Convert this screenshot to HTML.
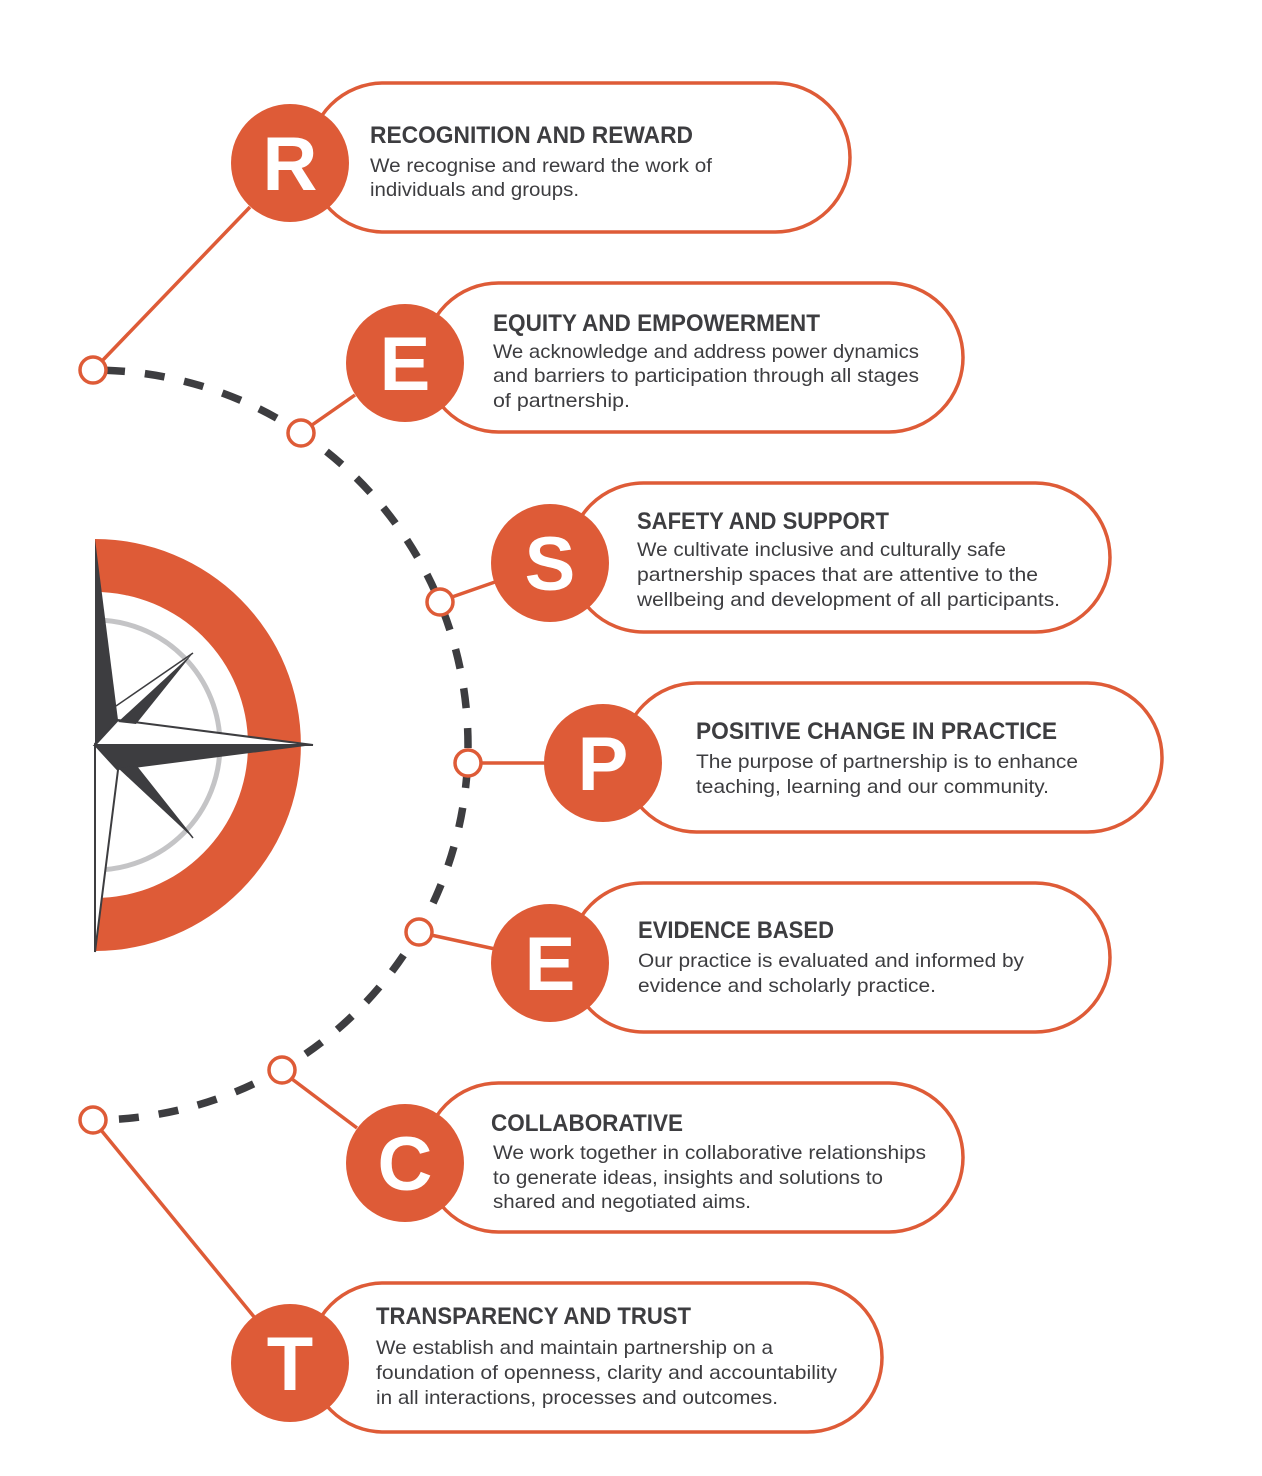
<!DOCTYPE html>
<html><head><meta charset="utf-8"><style>html,body{margin:0;padding:0;background:#fff}svg{display:block}</style></head>
<body>
<svg width="1262" height="1476" viewBox="0 0 1262 1476" xmlns="http://www.w3.org/2000/svg" font-family="Liberation Sans, sans-serif">
<!-- compass -->
<path d="M95 539 A206 206 0 0 1 95 951 L95 898 A153 153 0 0 0 95 592 Z" fill="#DE5B37"/>
<path d="M95 620 A125 125 0 0 1 95 870" fill="none" stroke="#c4c4c6" stroke-width="5"/>
<polygon points="95,539 118,720 95,745" fill="#3d3d40"/>
<polygon points="95,952 118,770 95,745" fill="#fff" stroke="#3d3d40" stroke-width="2"/>
<polygon points="95,745 118,720 313,745" fill="#fff" stroke="#3d3d40" stroke-width="2"/>
<polygon points="95,745 118,770 313,745" fill="#3d3d40"/>
<polygon points="118,722 193,653 136,724" fill="#3d3d40"/>
<line x1="116" y1="706" x2="193" y2="653" stroke="#3d3d40" stroke-width="1.5"/>
<polygon points="118,768 193,838 136,766" fill="#3d3d40"/>
<line x1="136" y1="766" x2="193" y2="838" stroke="#3d3d40" stroke-width="1.5"/>
<!-- dashed arc -->
<path d="M93 370 A375 375 0 0 1 93 1120" fill="none" stroke="#3d3d40" stroke-width="7.5" stroke-dasharray="20 20" stroke-dashoffset="-12"/>
<!-- connectors -->
<g stroke="#DE5B37" stroke-width="3.5" fill="none">
<line x1="250" y1="207" x2="102" y2="361"/>
<line x1="355" y1="395" x2="312" y2="425"/>
<line x1="495" y1="582" x2="452" y2="597"/>
<line x1="481" y1="763" x2="548" y2="763"/>
<line x1="431" y1="935" x2="495" y2="949"/>
<line x1="292" y1="1079" x2="357" y2="1128"/>
<line x1="101" y1="1130" x2="255" y2="1318"/>
</g>
<g stroke="#DE5B37" stroke-width="3.5" fill="#fff">
<circle cx="93" cy="370" r="13"/><circle cx="301" cy="433" r="13"/><circle cx="440" cy="602" r="13"/>
<circle cx="468" cy="763" r="13"/><circle cx="419" cy="932" r="13"/><circle cx="282" cy="1070" r="13"/><circle cx="93" cy="1120" r="13"/>
</g>
<!-- cards -->
<g stroke="#DE5B37" stroke-width="3.5" fill="#fff">
<rect x="309" y="83" width="541" height="149" rx="74.5"/>
<rect x="424" y="283" width="539" height="149" rx="74.5"/>
<rect x="569" y="483" width="541" height="149" rx="74.5"/>
<rect x="622" y="683" width="540" height="149" rx="74.5"/>
<rect x="569" y="883" width="541" height="149" rx="74.5"/>
<rect x="424" y="1083" width="539" height="149" rx="74.5"/>
<rect x="309" y="1283" width="573" height="149" rx="74.5"/>
</g>
<g fill="#DE5B37">
<circle cx="290" cy="163" r="59"/><circle cx="405" cy="363" r="59"/><circle cx="550" cy="563" r="59"/>
<circle cx="603" cy="763" r="59"/><circle cx="550" cy="963" r="59"/><circle cx="405" cy="1163" r="59"/><circle cx="290" cy="1363" r="59"/>
</g>
<g fill="#fff" font-weight="bold" font-size="76" text-anchor="middle">
<text x="290" y="190">R</text><text x="405" y="390">E</text><text x="550" y="590">S</text>
<text x="603" y="790">P</text><text x="550" y="990">E</text><text x="405" y="1190">C</text><text x="290" y="1390">T</text>
</g>
<g fill="#3d3d40">
<g font-weight="bold" font-size="24">
<text x="370" y="143" textLength="323" lengthAdjust="spacingAndGlyphs">RECOGNITION AND REWARD</text>
<text x="493" y="331" textLength="327" lengthAdjust="spacingAndGlyphs">EQUITY AND EMPOWERMENT</text>
<text x="637" y="529" textLength="252" lengthAdjust="spacingAndGlyphs">SAFETY AND SUPPORT</text>
<text x="696" y="739" textLength="361" lengthAdjust="spacingAndGlyphs">POSITIVE CHANGE IN PRACTICE</text>
<text x="638" y="938" textLength="196" lengthAdjust="spacingAndGlyphs">EVIDENCE BASED</text>
<text x="491" y="1131" textLength="192" lengthAdjust="spacingAndGlyphs">COLLABORATIVE</text>
<text x="376" y="1324" textLength="315" lengthAdjust="spacingAndGlyphs">TRANSPARENCY AND TRUST</text>
</g>
<g font-size="19.5">
<text x="370" y="172" textLength="342" lengthAdjust="spacingAndGlyphs">We recognise and reward the work of</text>
<text x="370" y="196" textLength="209" lengthAdjust="spacingAndGlyphs">individuals and groups.</text>
<text x="493" y="358" textLength="426" lengthAdjust="spacingAndGlyphs">We acknowledge and address power dynamics</text>
<text x="493" y="382" textLength="426" lengthAdjust="spacingAndGlyphs">and barriers to participation through all stages</text>
<text x="493" y="407" textLength="137" lengthAdjust="spacingAndGlyphs">of partnership.</text>
<text x="637" y="556" textLength="369" lengthAdjust="spacingAndGlyphs">We cultivate inclusive and culturally safe</text>
<text x="637" y="581" textLength="401" lengthAdjust="spacingAndGlyphs">partnership spaces that are attentive to the</text>
<text x="637" y="606" textLength="423" lengthAdjust="spacingAndGlyphs">wellbeing and development of all participants.</text>
<text x="696" y="768" textLength="382" lengthAdjust="spacingAndGlyphs">The purpose of partnership is to enhance</text>
<text x="696" y="793" textLength="353" lengthAdjust="spacingAndGlyphs">teaching, learning and our community.</text>
<text x="638" y="967" textLength="386" lengthAdjust="spacingAndGlyphs">Our practice is evaluated and informed by</text>
<text x="638" y="992" textLength="298" lengthAdjust="spacingAndGlyphs">evidence and scholarly practice.</text>
<text x="493" y="1159" textLength="433" lengthAdjust="spacingAndGlyphs">We work together in collaborative relationships</text>
<text x="493" y="1184" textLength="390" lengthAdjust="spacingAndGlyphs">to generate ideas, insights and solutions to</text>
<text x="493" y="1208" textLength="258" lengthAdjust="spacingAndGlyphs">shared and negotiated aims.</text>
<text x="376" y="1354" textLength="397" lengthAdjust="spacingAndGlyphs">We establish and maintain partnership on a</text>
<text x="376" y="1379" textLength="461" lengthAdjust="spacingAndGlyphs">foundation of openness, clarity and accountability</text>
<text x="376" y="1404" textLength="402" lengthAdjust="spacingAndGlyphs">in all interactions, processes and outcomes.</text>
</g>
</g>
</svg>
</body></html>
